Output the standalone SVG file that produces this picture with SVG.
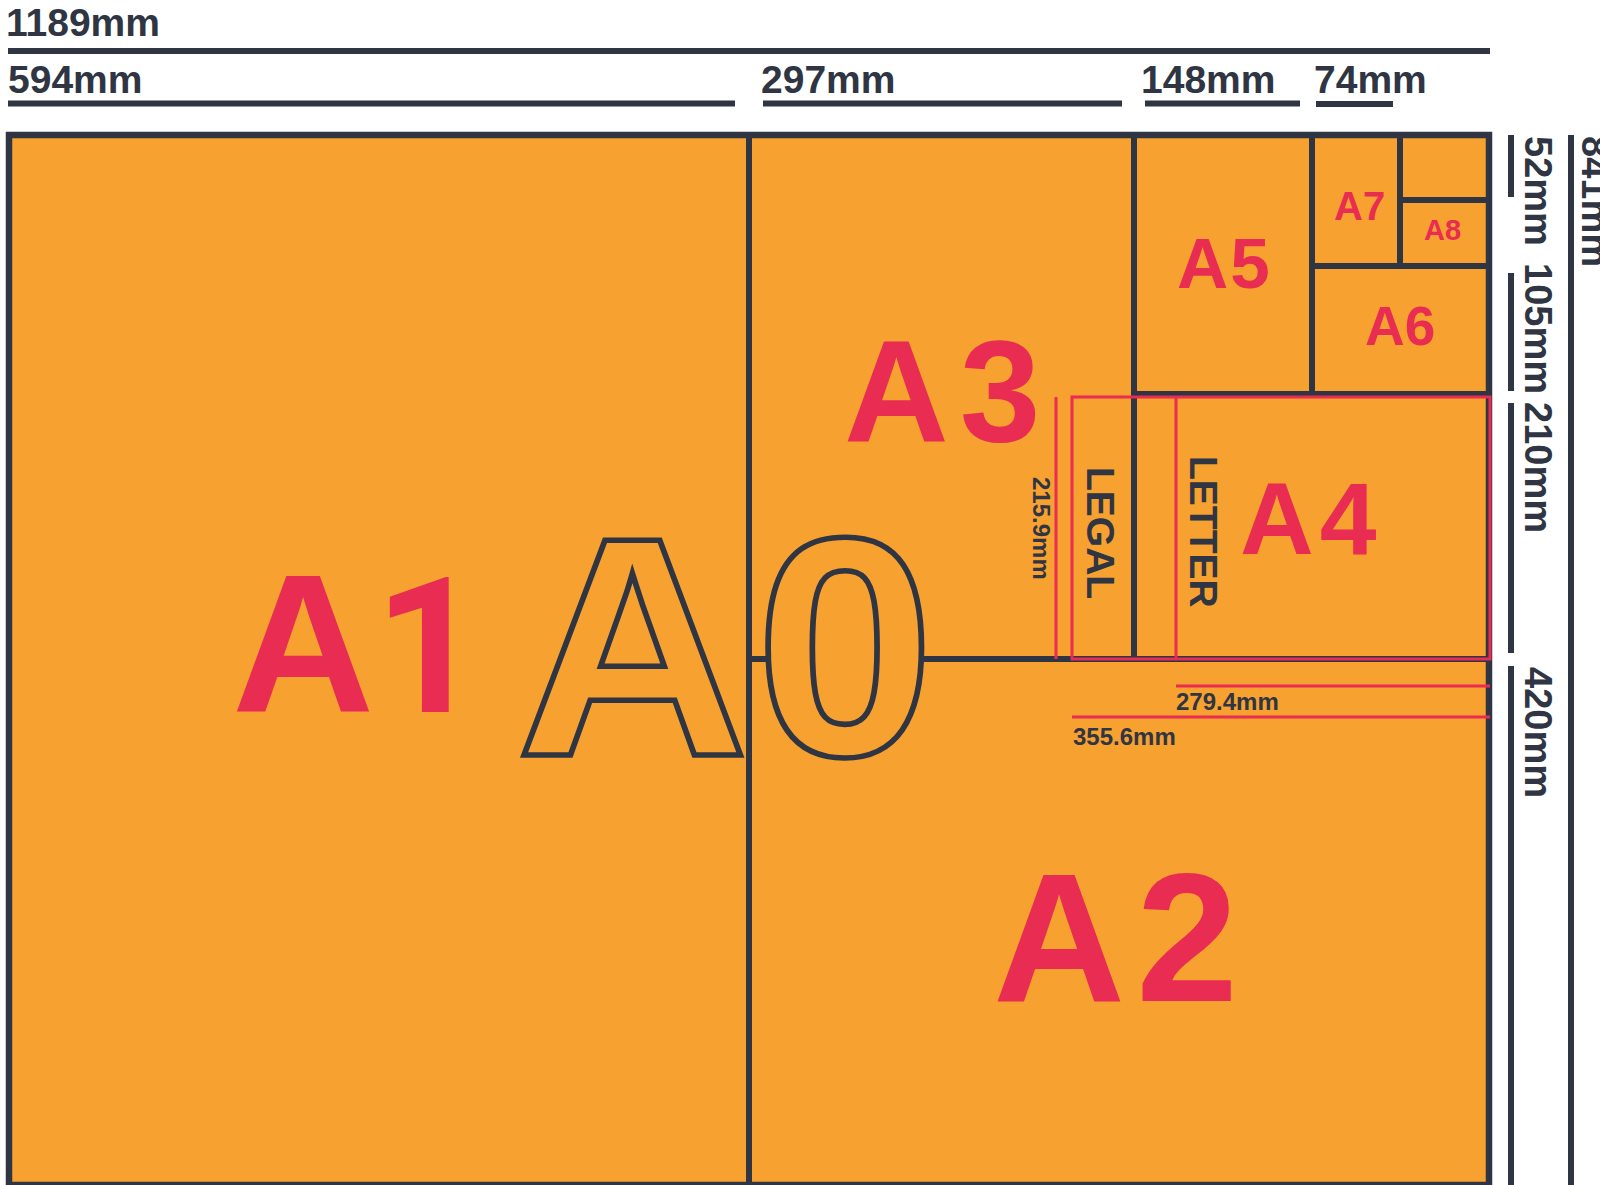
<svg xmlns="http://www.w3.org/2000/svg" width="1600" height="1185" viewBox="0 0 1600 1185">
<style>
.dk{stroke:#2F3542;stroke-width:6;fill:none}
.rd{stroke:#E92C52;stroke-width:3;fill:none}
.t{font-family:"Liberation Sans",Arial,sans-serif;font-weight:700}
.dt{fill:#2F3542}
.lab{fill:#E92C52}
.sm{font-size:24px}
.vt{font-size:38px}
.top{font-size:39px}
</style>
<rect width="1600" height="1185" fill="#ffffff"/>
<g id="sheet">
  <rect id="A0-frame" x="9" y="135" width="1480" height="1050" fill="#F7A130" stroke="#2F3542" stroke-width="6.5"/>
</g>
<g id="connectors">
  <line class="dk" x1="749" y1="138" x2="749" y2="1182"/>
  <line class="dk" x1="749" y1="659" x2="785" y2="659"/>
  <line class="dk" x1="905" y1="659" x2="1486" y2="659"/>
  <line class="dk" x1="1134" y1="138" x2="1134" y2="659"/>
  <line class="dk" x1="1134" y1="394" x2="1486" y2="394"/>
  <line class="dk" x1="1312" y1="138" x2="1312" y2="394"/>
  <line class="dk" x1="1312" y1="266" x2="1486" y2="266"/>
  <line class="dk" x1="1400" y1="138" x2="1400" y2="266"/>
  <line class="dk" x1="1400" y1="200" x2="1486" y2="200"/>
  <line class="dk" x1="8" y1="51" x2="1490" y2="51"/>
  <line class="dk" x1="8" y1="103.5" x2="735" y2="103.5"/>
  <line class="dk" x1="763" y1="103.5" x2="1122" y2="103.5"/>
  <line class="dk" x1="1145" y1="103.5" x2="1300" y2="103.5"/>
  <line class="dk" x1="1316" y1="104" x2="1393" y2="104"/>
  <line class="dk" x1="1511" y1="135" x2="1511" y2="197"/>
  <line class="dk" x1="1511" y1="273" x2="1511" y2="391"/>
  <line class="dk" x1="1511" y1="403" x2="1511" y2="653"/>
  <line class="dk" x1="1511" y1="666" x2="1511" y2="1185"/>
  <line class="dk" x1="1571" y1="135" x2="1571" y2="1185"/>
  <rect id="legal-outline" class="rd" x="1072" y="397" width="418" height="262"/>
  <line class="rd" x1="1176" y1="397" x2="1176" y2="659"/>
  <line class="rd" x1="1056" y1="397" x2="1056" y2="659" stroke-width="2.5"/>
  <line class="rd" x1="1176" y1="686" x2="1490" y2="686"/>
  <line class="rd" x1="1072" y1="717" x2="1490" y2="717"/>
</g>
<g id="A0">
  <text class="t" transform="translate(516,755) scale(1.075,1.04)" font-size="300" fill="#F7A130" stroke="#2F3542" stroke-width="5.3">A<tspan dx="6">0</tspan></text>
</g>
<g id="A1"><text class="t lab" x="232" y="712" font-size="197">A<tspan font-family="Roboto, sans-serif" font-size="190">1</tspan></text></g>
<g id="A2"><text class="t lab" x="993" y="1001" font-size="183" letter-spacing="11">A2</text></g>
<g id="A3"><text class="t lab" x="844" y="441" font-size="145" letter-spacing="11">A3</text></g>
<g id="A4"><text class="t lab" x="1240" y="554" font-size="102" letter-spacing="6">A4</text></g>
<g id="A5"><text class="t lab" x="1177" y="288" font-size="71" letter-spacing="2">A5</text></g>
<g id="A6"><text class="t lab" x="1365" y="345" font-size="55">A6</text></g>
<g id="A7"><text class="t lab" x="1334" y="220" font-size="40">A7</text></g>
<g id="A8"><text class="t lab" x="1424" y="240" font-size="29">A8</text></g>
<g id="LEGAL"><text class="t dt" font-size="39" transform="translate(1087,467) rotate(90)">LEGAL</text></g>
<g id="LETTER"><text class="t dt" font-size="39" transform="translate(1190,456) rotate(90)">LETTER</text></g>
<g id="dim-labels">
  <text class="t dt top" x="6" y="36">1189mm</text>
  <text class="t dt top" x="8" y="93">594mm</text>
  <text class="t dt top" x="761" y="93">297mm</text>
  <text class="t dt top" x="1141" y="93">148mm</text>
  <text class="t dt top" x="1314" y="93">74mm</text>
  <text class="t dt sm" transform="translate(1033,477) rotate(90)">215.9mm</text>
  <text class="t dt sm" x="1176" y="710">279.4mm</text>
  <text class="t dt sm" x="1073" y="745">355.6mm</text>
  <text class="t dt vt" transform="translate(1525,136) rotate(90)">52mm</text>
  <text class="t dt vt" transform="translate(1525,263) rotate(90)">105mm</text>
  <text class="t dt vt" transform="translate(1525,402) rotate(90)">210mm</text>
  <text class="t dt vt" transform="translate(1525,667) rotate(90)">420mm</text>
  <text class="t dt vt" transform="translate(1582,136) rotate(90)">841mm</text>
</g>
</svg>
